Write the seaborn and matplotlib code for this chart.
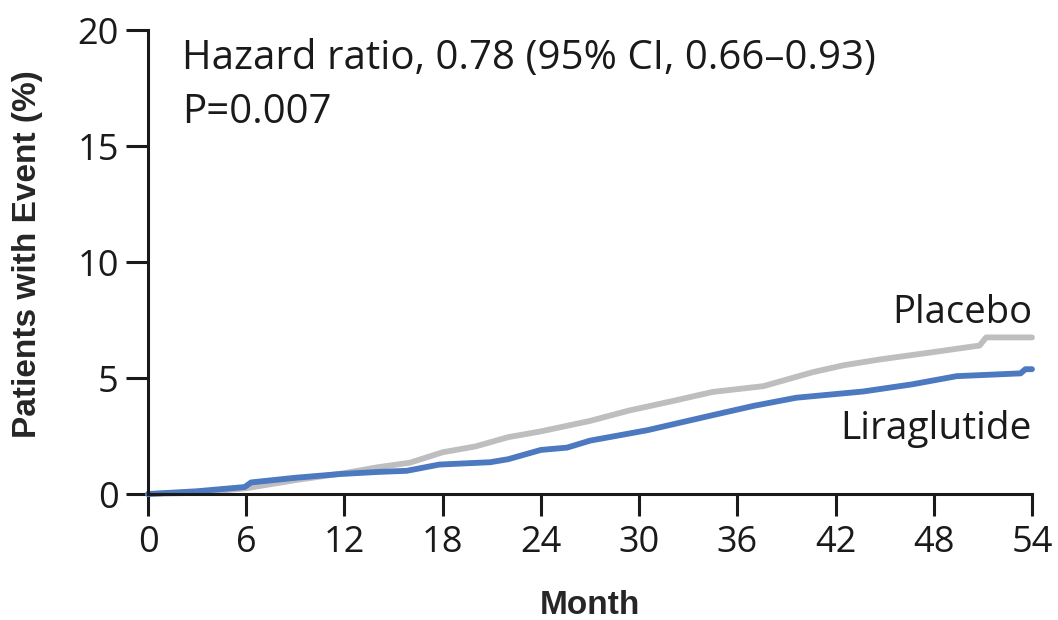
import pandas as pd
import seaborn as sns
import matplotlib.pyplot as plt

# Kaplan-Meier curves (month, cumulative % with event)
placebo_month = [0, 3, 6, 9, 12, 14, 16, 18, 20, 22, 24, 27, 29.4, 32, 34.5,
                 37.6, 40.6, 42.5, 44.7, 47.8, 50.8, 51.2, 54]
placebo_pct = [0, 0.05, 0.25, 0.6, 0.9, 1.15, 1.35, 1.8, 2.05, 2.45, 2.7,
               3.15, 3.6, 4.0, 4.4, 4.65, 5.25, 5.55, 5.8, 6.1, 6.4, 6.75, 6.75]

lira_month = [0, 3, 5.9, 6.3, 9, 11.7, 14, 15.8, 17.8, 20.9, 22, 24, 25.6,
              27, 30.5, 34.5, 37, 39.6, 43.7, 46.7, 49.4, 53.3, 53.6, 54]
lira_pct = [0, 0.12, 0.3, 0.5, 0.7, 0.86, 0.95, 1.0, 1.27, 1.37, 1.5, 1.9,
            2.0, 2.3, 2.75, 3.4, 3.8, 4.15, 4.42, 4.73, 5.08, 5.2, 5.38, 5.38]

x_ticks = [0, 6, 12, 18, 24, 30, 36, 42, 48, 54]
y_ticks = [0, 5, 10, 15, 20]

df = pd.concat([
    pd.DataFrame({'month': placebo_month, 'pct': placebo_pct, 'group': 'Placebo'}),
    pd.DataFrame({'month': lira_month, 'pct': lira_pct, 'group': 'Liraglutide'}),
])

sns.set_style('ticks')
plt.rcParams['font.family'] = ['Open Sans', 'DejaVu Sans']

fig, ax = plt.subplots(figsize=(10.58, 6.2), dpi=100)
fig.subplots_adjust(left=0.1399, right=0.9754, bottom=0.2032, top=0.9516)

sns.lineplot(data=df, x='month', y='pct', hue='group',
             palette={'Placebo': '#BEBEC0', 'Liraglutide': '#4C79C0'},
             linewidth=4.2, legend=False, ax=ax, clip_on=False)

ax.set_xlim(0, 54)
ax.set_ylim(0, 20)
ax.set_xticks(x_ticks)
ax.set_yticks(y_ticks)
ax.tick_params(axis='both', labelsize=26, length=16, width=2.2,
               colors='#1a1a1a', pad=5)
ax.tick_params(axis='x', pad=6)
for side in ['left', 'bottom']:
    ax.spines[side].set_linewidth(2.2)
    ax.spines[side].set_color('#1a1a1a')
sns.despine(ax=ax)

ax.set_xlabel('Month', fontsize=24, fontweight='bold',
              family=['Liberation Sans', 'DejaVu Sans'], labelpad=21)
ax.set_ylabel('Patients with Event (%)', fontsize=24, fontweight='bold',
              family=['Liberation Sans', 'DejaVu Sans'])
ax.yaxis.set_label_coords(-0.119, 0.516)

ax.text(2.1, 18.75, 'Hazard ratio, 0.78 (95% CI, 0.66\u20130.93)',
        fontsize=29, color='#1a1a1a', va='center', ha='left')
ax.text(2.1, 16.45, 'P=0.007', fontsize=29, color='#1a1a1a',
        va='center', ha='left')
ax.text(54, 7.8, 'Placebo', fontsize=27.5, color='#1a1a1a',
        va='center', ha='right')
ax.text(54, 2.8, 'Liraglutide', fontsize=28, color='#1a1a1a',
        va='center', ha='right')

fig.savefig('out.png', dpi=100)
